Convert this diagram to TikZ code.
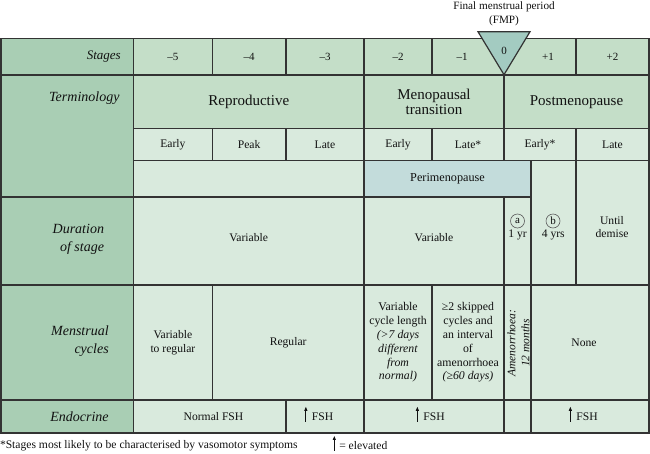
\documentclass[tikz,border=0pt]{standalone}
\usepackage{fontspec}
\setmainfont{Liberation Serif}
\usetikzlibrary{arrows.meta}
\definecolor{leftc}{HTML}{A9CEB4}
\definecolor{midc}{HTML}{C4DEC8}
\definecolor{lightc}{HTML}{D9EADD}
\definecolor{peric}{HTML}{C3DCDB}
\definecolor{tric}{HTML}{A3CBC1}
\definecolor{linec}{HTML}{333333}
\definecolor{textc}{HTML}{111111}
\newcommand{\fsz}[2]{\fontsize{#1}{#2}\selectfont}
\begin{document}
\begin{tikzpicture}[x=1pt,y=-1pt,
  cell/.style n args={4}{draw=linec, line width=1.1pt, inner sep=0pt, outer sep=0pt,
    align=center, text=textc, font=\fsz{11.6}{13.8},
    minimum width={(#3-#1)*1pt}, minimum height={(#4-#2)*1pt},
    at={({(#1+#3)/2},{(#2+#4)/2})}},
  lab/.style={inner sep=0pt, outer sep=0pt, text=textc, align=center, font=\fsz{11.6}{13.8}},
  side/.style={inner sep=0pt, outer sep=0pt, text=textc, align=right, font=\fsz{14}{18}\itshape},
  big/.style={font=\fsz{15}{15.5}},
  circ/.style={draw=linec!80, line width=0.6pt, circle, minimum size=14pt, inner sep=0pt, text=textc, font=\fsz{11}{12}},
  uparr/.style={draw=textc, line width=0.8pt, -{Triangle[length=4pt,width=3pt]}}
]
\useasboundingbox (0,0) rectangle (650,453);

% title
\node[lab, font=\fsz{11.2}{14}] (fmp) at (504,14) {Final menstrual period\\(FMP)};

% left column
\node[cell={1}{38.5}{133.5}{75}, fill=leftc] (lstg) {};
\node[cell={1}{75}{133.5}{197}, fill=leftc] (lterm) {};
\node[cell={1}{197}{133.5}{285}, fill=leftc] (ldur) {};
\node[cell={1}{285}{133.5}{400}, fill=leftc] (lmen) {};
\node[cell={1}{400}{133.5}{433}, fill=leftc] (lend) {};
\node[side, font=\fsz{13}{16}\itshape, anchor=east] (tstg) at (120.7,57) {Stages};
\node[side, anchor=east] (tterm) at (119.5,98.5) {Terminology};
\node[side, anchor=east] (tdur) at (104,239) {Duration\\of stage};
\node[side, anchor=east] (tmen) at (108.7,341.5) {Menstrual\\cycles};
\node[side, anchor=east] (tend) at (108.7,416.7) {Endocrine};

% stages row
\node[cell={133.5}{38.5}{212.3}{75}, fill=midc, font=\fsz{11}{13}] (s5) {–5};
\node[cell={212.3}{38.5}{286}{75}, fill=midc, font=\fsz{11}{13}] (s4) {–4};
\node[cell={286}{38.5}{364}{75}, fill=midc, font=\fsz{11}{13}] (s3) {–3};
\node[cell={364}{38.5}{432}{75}, fill=midc, font=\fsz{11}{13}] (s2) {–2};
\node[cell={432}{38.5}{504}{75}, fill=midc] (s1) {};
\node[cell={504}{38.5}{576}{75}, fill=midc] (p1) {};
\node[cell={576}{38.5}{649}{75}, fill=midc, font=\fsz{11}{13}] (p2) {+2};
\node[lab, font=\fsz{11}{13}] (ts1) at (462,57) {–1};
\node[lab, font=\fsz{11}{13}] (tp1) at (548,57) {+1};

% terminology row
\node[cell={133.5}{75}{364}{128.5}, fill=midc, big] (trep) {Reproductive};
\node[cell={364}{75}{504}{128.5}, fill=midc, big] (tmt) {Menopausal\\transition};
\node[cell={504}{75}{649}{128.5}, fill=midc, big] (tpost) {Postmenopause};

% early / peak / late row
\node[cell={133.5}{128.5}{212.3}{160.7}, fill=lightc] (e1) {Early};
\node[cell={212.3}{128.5}{286}{160.7}, fill=lightc] (e2) {Peak};
\node[cell={286}{128.5}{364}{160.7}, fill=lightc] (e3) {Late};
\node[cell={364}{128.5}{432}{160.7}, fill=lightc] (e4) {Early};
\node[cell={432}{128.5}{504}{160.7}, fill=lightc] (e5) {Late*};
\node[cell={504}{128.5}{576}{160.7}, fill=lightc] (e6) {Early*};
\node[cell={576}{128.5}{649}{160.7}, fill=lightc] (e7) {Late};

% perimenopause row
\node[cell={133.5}{160.7}{364}{197}, fill=lightc] (blank) {};
\node[cell={364}{160.7}{531}{197}, fill=peric, font=\fsz{12.2}{14}] (peri) {Perimenopause};
\node[cell={531}{160.7}{576}{285}, fill=lightc] (bcell) {};
\node[cell={576}{160.7}{649}{285}, fill=lightc] (udcell) {};
\node[lab] (tud) at (612,227) {Until\\demise};

% duration row
\node[cell={133.5}{197}{364}{285}, fill=lightc] (d1) {};
\node[cell={364}{197}{504}{285}, fill=lightc] (d2) {};
\node[cell={504}{197}{531}{285}, fill=lightc] (acell) {};
\node[lab] (td1) at (248.7,238) {Variable};
\node[lab] (td2) at (434,238) {Variable};
\node[circ] (ca) at (517.5,221) {a};
\node[lab] (t1yr) at (517.5,234.5) {1 yr};
\node[circ] (cb) at (553,221) {b};
\node[lab] (t4yr) at (553.3,234.5) {4 yrs};

% menstrual cycles row
\node[cell={133.5}{285}{212.3}{400}, fill=lightc] (m1) {Variable\\to regular};
\node[cell={212.3}{285}{364}{400}, fill=lightc] (m2) {Regular};
\node[cell={364}{285}{432}{400}, fill=lightc, font=\fsz{11.8}{13.8}] (m3)
  {Variable\\cycle length\\\textit{(>7 days}\\\textit{different}\\\textit{from}\\\textit{normal)}};
\node[cell={432}{285}{504}{400}, fill=lightc, font=\fsz{11.8}{13.8}] (m4)
  {≥2 skipped\\cycles and\\an interval\\of\\amenorrhoea\\\textit{(≥60 days)}};
\node[cell={504}{285}{531}{400}, fill=lightc] (m5) {};
\node[cell={531}{285}{649}{400}, fill=lightc] (m6) {};
\node[lab, rotate=90, font=\fsz{11.5}{14}\itshape] (tamen) at (518.5,343) {Amenorrhoea:\\12 months};
\node[lab] (tnone) at (584,342.5) {None};

% endocrine row
\node[cell={133.5}{400}{286}{433}, fill=lightc] (n1) {};
\node[cell={286}{400}{364}{433}, fill=lightc] (n2) {};
\node[cell={364}{400}{504}{433}, fill=lightc] (n3) {};
\node[cell={504}{400}{531}{433}, fill=lightc] (n4) {};
\node[cell={531}{400}{649}{433}, fill=lightc] (n5) {};
\node[lab] (tnorm) at (213.5,417) {Normal FSH};
\node[lab] (f1) at (322.5,417) {FSH};
\node[lab] (f2) at (434,417) {FSH};
\node[lab] (f3) at (587,417) {FSH};
\draw[uparr] ([xshift=-6pt,yshift=-1pt]f1.base west) -- ++(0,-15);
\draw[uparr] ([xshift=-6pt,yshift=-1pt]f2.base west) -- ++(0,-15);
\draw[uparr] ([xshift=-6pt,yshift=-1pt]f3.base west) -- ++(0,-15);

% FMP triangle
\coordinate (tl) at (478,31.7);
\coordinate (tr) at (530,31.7);
\coordinate (tb) at (504,74.7);
\draw[fill=tric, draw=linec, line width=1.2pt, line join=miter] (tl) -- (tr) -- (tb) -- cycle;
\node[lab, font=\fsz{11}{13}] (zero) at (504,51) {0};

% footnote
\node[lab, anchor=west] (foot) at (0,446) {*Stages most likely to be characterised by vasomotor symptoms};
\node[lab, anchor=west] (elev) at (339.3,446) {= elevated};
\draw[uparr] ([xshift=-5pt,yshift=-1pt]elev.base west) -- ++(0,-15);
\end{tikzpicture}
\end{document}
